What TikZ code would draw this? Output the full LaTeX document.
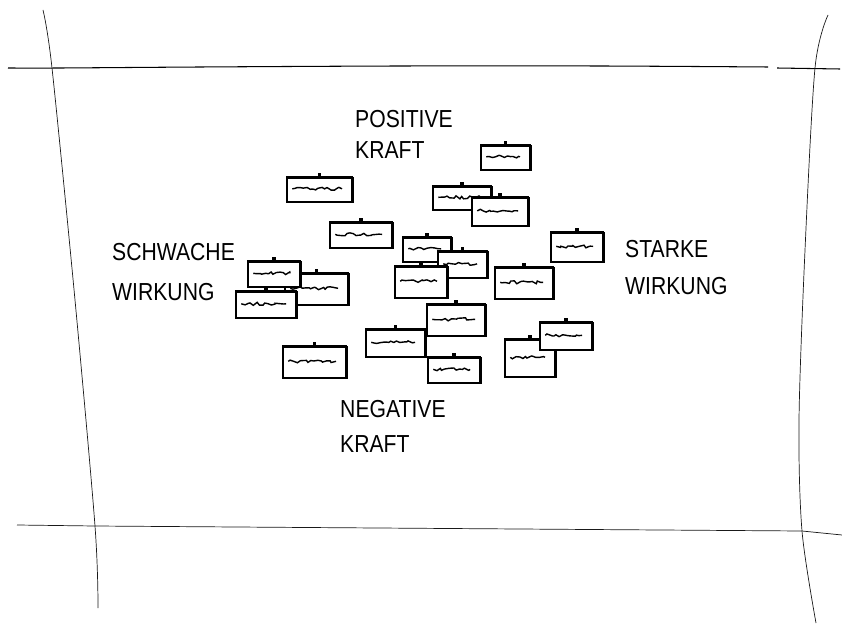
\documentclass[tikz,border=0pt]{standalone}
\usepackage{fontspec}
\setmainfont{Liberation Sans}[FakeStretch=0.86]
\usepackage{tikz}
\usetikzlibrary{fit,decorations.pathmorphing}

\begin{document}
\begin{tikzpicture}[
  x=0.03cm, y=-0.03cm,
  every node/.style={font=\fontsize{21}{30}\selectfont},
  caption/.style={align=left, anchor=north west, inner sep=0pt},
  card/.style={draw, fill=white, line width=1pt, inner sep=0pt},
  scribble/.style={line width=1.2pt, decorate,
    decoration={random steps, segment length=2.5pt, amplitude=1.3pt}},
  frame/.style={line width=0.6pt, black!90}
]
\useasboundingbox (0,0) rectangle (842,625);
\pgfmathsetseed{7}

% frame lines
\draw[frame, line width=0.9pt, black] plot[smooth] coordinates {(8,68) (60,68) (200,67) (400,66) (600,66) (768,67)};
\draw[frame, line width=0.9pt, black] (777,68) -- (840,69);
\draw[frame] (17,525) -- (95,526) -- (802,531) -- (842,535);
\draw[frame] plot[smooth] coordinates {(43,10) (52,68) (75,300) (95,526) (98,608)};
\draw[frame] plot[smooth] coordinates {(828,15) (815,68) (805,250) (799,420) (802,531) (816,623)};

% axis labels
\node[caption, font=\fontsize{21}{26.4}\selectfont] (pos) at (355,110) {POSITIVE\\KRAFT};
\node[caption, font=\fontsize{21}{30}\selectfont] (neg) at (340,400) {NEGATIVE\\KRAFT};
\node[caption, font=\fontsize{21}{34}\selectfont] (weak) at (112,243) {SCHWACHE\\WIRKUNG};
\node[caption, font=\fontsize{21}{32}\selectfont] (strong) at (625,240) {STARKE\\WIRKUNG};

% cards
\foreach \n/\a/\b/\c/\d in {ka/481/146/530/170, kb/287/178/352/202,
    kc/433/187/491/210, kd/472/198/528/226, ke/330/223/392/248,
    kf/403/238/451/262, kg/438/252/487/278, kk/395/267/447/298,
    ks/551/233/603/262, ki/285/274/348/305, kh/248/262/300/287,
    kj/236/292/296/318, kl/495/268/553/299, km/427/305/485/336,
    kn/366/330/425/357, ko/283/347/346/378, kp/428/358/480/383,
    kq/505/340/555/377, kr/540/323/592/350}{
  \node[card, fit={(\a,\b) (\c,\d)}] (\n) {};
  \draw[line width=2pt] (\n.north east) -- (\n.south east);
  \draw[line width=1.6pt] (\n.north west) -- (\n.north east);
  \fill ([xshift=-1.5pt]\n.north) rectangle ([xshift=1.5pt,yshift=4pt]\n.north);
  \draw[scribble] ([xshift=5pt,yshift=1pt]\n.west) -- ([xshift=-9pt,yshift=1pt]\n.east);
}
\end{tikzpicture}
\end{document}
